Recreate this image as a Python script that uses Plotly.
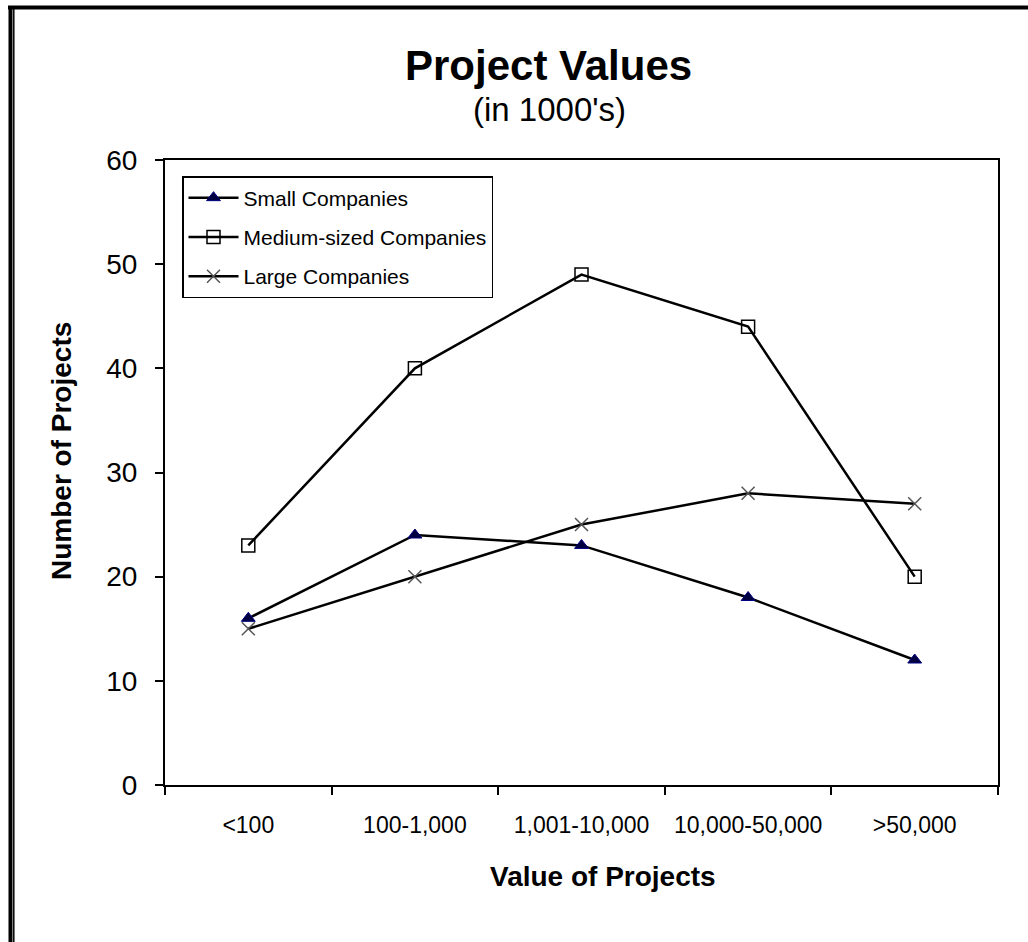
import plotly.graph_objects as go

categories = ["<100", "100-1,000", "1,001-10,000", "10,000-50,000", ">50,000"]
small_companies = [16, 24, 23, 18, 12]
medium_companies = [23, 40, 49, 44, 20]
large_companies = [15, 20, 25, 28, 27]
y_ticks = [0, 10, 20, 30, 40, 50, 60]

FONT = "Liberation Sans, Arial, sans-serif"

fig = go.Figure()

fig.add_trace(go.Scatter(
    x=categories, y=small_companies, name="Small Companies",
    mode="lines+markers", legendgroup="s",
    line=dict(color="black", width=2.5),
    marker=dict(symbol="triangle-up", size=12, color="#000040",
                line=dict(color="#000080", width=1)),
))
fig.add_trace(go.Scatter(
    x=categories, y=medium_companies, name="Medium-sized Companies",
    mode="lines+markers", legendgroup="m",
    line=dict(color="black", width=2.5),
    marker=dict(symbol="square-open", size=13, color="black",
                line=dict(color="black", width=1.5)),
))
fig.add_trace(go.Scatter(
    x=categories, y=large_companies, name="Large Companies",
    mode="lines+markers", legendgroup="l",
    line=dict(color="black", width=2.5),
    marker=dict(symbol="x-thin-open", size=13, color="#555555",
                line=dict(color="#555555", width=1.5)),
))

# Plot-area geometry in pixels, used to place frame and text in paper units
L, T, W, H = 165, 160, 833, 625


def px(x):
    return (x - L) / W


def py(y):
    return (T + H - y) / H


# Outer frame: heavy top rule, double rule on the left
shapes = [
    dict(type="line", xref="paper", yref="paper",
         x0=px(8), x1=px(1030), y0=py(7.5), y1=py(7.5),
         line=dict(color="black", width=4)),
    dict(type="line", xref="paper", yref="paper",
         x0=px(10.5), x1=px(10.5), y0=py(6), y1=py(945),
         line=dict(color="black", width=4)),
    dict(type="line", xref="paper", yref="paper",
         x0=px(13.8), x1=px(13.8), y0=py(6), y1=py(945),
         line=dict(color="black", width=1.5)),
]


def label(text, x, y, size, angle=0):
    return dict(text=text, xref="paper", yref="paper",
                x=px(x), y=py(y), xanchor="center", yanchor="middle",
                showarrow=False, textangle=angle,
                font=dict(family=FONT, size=size, color="black"))


annotations = [
    label("<b>Project Values</b>", 548, 66, 42),
    label("(in 1000's)", 549, 109, 33),
    label("<b>Number of Projects</b>", 61, 451, 28, angle=-90),
    label("<b>Value of Projects</b>", 603, 876, 28),
]

fig.update_layout(
    width=1028, height=942,
    margin=dict(l=L, r=1028 - L - W, t=T, b=942 - T - H),
    paper_bgcolor="white", plot_bgcolor="white",
    font=dict(family=FONT, color="black"),
    shapes=shapes, annotations=annotations,
    showlegend=True,
    legend=dict(
        x=px(182), y=py(176), xanchor="left", yanchor="top",
        bgcolor="white", bordercolor="black", borderwidth=1.5,
        font=dict(family=FONT, size=21, color="black"),
        traceorder="grouped", tracegroupgap=9, itemwidth=50,
    ),
    xaxis=dict(
        type="category", categoryorder="array", categoryarray=categories,
        range=[-0.5, 4.5],
        showline=True, linecolor="black", linewidth=2, mirror=True,
        ticks="outside", tickson="boundaries", ticklen=8, tickwidth=2,
        tickcolor="black", showgrid=False, zeroline=False,
        tickfont=dict(family=FONT, size=23, color="black"),
        ticklabelstandoff=18,
    ),
    yaxis=dict(
        range=[0, 60], tickvals=y_ticks,
        showline=True, linecolor="black", linewidth=2, mirror=True,
        ticks="outside", ticklen=8, tickwidth=2, tickcolor="black",
        showgrid=False, zeroline=False,
        tickfont=dict(family=FONT, size=28, color="black"),
        ticklabelstandoff=12,
    ),
)

fig.write_html("out.html")
